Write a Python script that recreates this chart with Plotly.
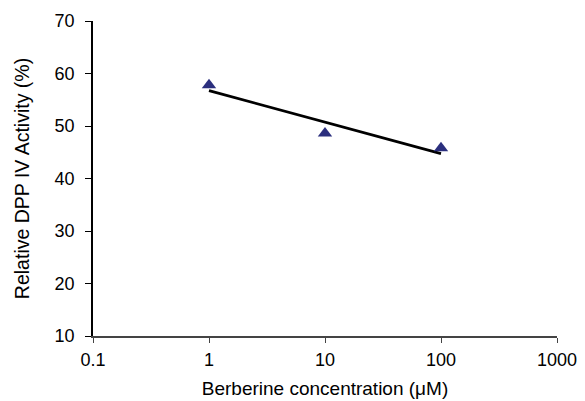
import numpy as np
import plotly.graph_objects as go

conc = [1, 10, 100]
activity = [57.8, 48.6, 45.8]
x_ticks = [0.1, 1, 10, 100, 1000]
x_tick_labels = ["0.1", "1", "10", "100", "1000"]
y_ticks = [10, 20, 30, 40, 50, 60, 70]

# logarithmic trend line fitted to the data
lx = np.log10(conc)
slope, intercept = np.polyfit(lx, activity, 1)
trend_x = [conc[0], conc[-1]]
trend_y = [intercept + slope * np.log10(v) for v in trend_x]

fig = go.Figure()
fig.add_trace(go.Scatter(x=trend_x, y=trend_y, mode="lines",
                         line=dict(color="black", width=2.7), showlegend=False))
fig.add_trace(go.Scatter(x=conc, y=activity, mode="markers",
                         marker=dict(symbol="triangle-up", size=12.5, color="#2B2F7E"),
                         showlegend=False))

font = dict(family="Liberation Sans, Arial, sans-serif", size=18, color="black")
fig.update_layout(
    width=577, height=393,
    margin=dict(l=85, r=28, t=13, b=65),
    paper_bgcolor="white", plot_bgcolor="white",
    font=font,
    xaxis=dict(type="log", range=[-1, 3], tickvals=x_ticks, ticktext=x_tick_labels,
               automargin=False,
               showgrid=False, zeroline=False, showline=True, linecolor="#444",
               linewidth=1.5, ticks="outside", ticklen=5, tickcolor="#444",
               tickfont=dict(size=18), ticklabelstandoff=2,
               title=dict(text="Berberine concentration (μM)", standoff=12,
                          font=dict(size=19))),
    yaxis=dict(range=[10, 70], tickvals=y_ticks, showgrid=False, zeroline=False,
               automargin=False,
               showline=True, linecolor="black", linewidth=1.5, ticks="outside",
               ticklen=6, tickcolor="black", tickfont=dict(size=18),
               ticklabelstandoff=7,
               title=dict(text="Relative DPP IV Activity (%)", standoff=20,
                          font=dict(size=19.5))),
)
fig.write_html("out.html")
